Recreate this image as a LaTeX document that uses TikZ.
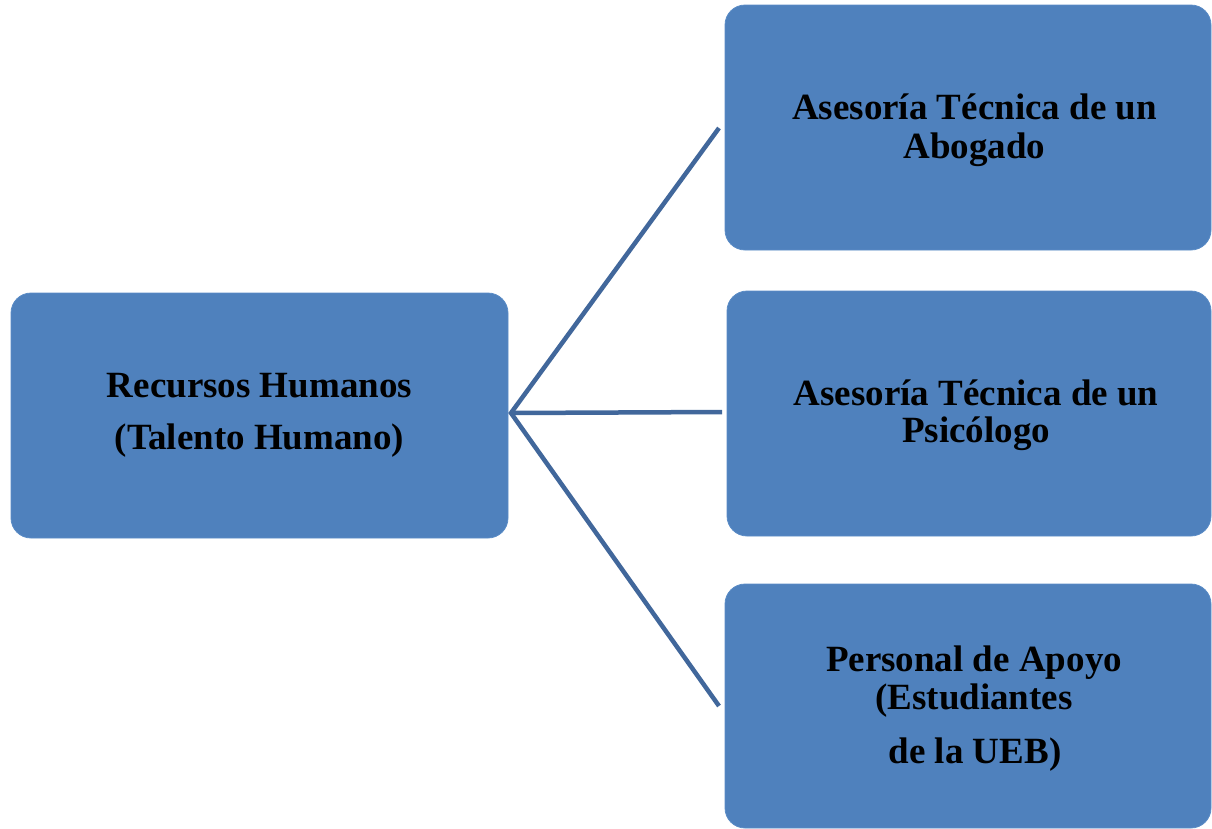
\documentclass[tikz,border=0pt]{standalone}
\usepackage{fontspec}
\setmainfont{Liberation Serif}
\definecolor{boxblue}{HTML}{4F81BD}
\definecolor{boxedge}{HTML}{5B8CC6}
\definecolor{linkblue}{HTML}{41679B}
\tikzset{
  panel/.style={fill=boxblue, draw=boxedge, line width=0.8pt, rounded corners=20pt},
  lbl/.style={anchor=base, inner sep=0pt, font=\fontsize{37}{40}\selectfont\bfseries, text=black},
  link/.style={draw=linkblue, line width=4.5pt}
}
\begin{document}
\begin{tikzpicture}[x=1pt, y=-1pt]
  \useasboundingbox (0,0) rectangle (1212,828);
  \clip (0,0) rectangle (1212,828);

  % boxes
  \draw[panel] (11,293) rectangle (508,538);
  \draw[panel] (725,5) rectangle (1211,250);
  \draw[panel] (727,291) rectangle (1211,536);
  \draw[panel] (725,584) rectangle (1211,828);

  % labels
  \node[lbl] (rh1) at (259.5,397) {Recursos Humanos};
  \node[lbl] (rh2) at (259.5,449) {(Talento Humano)};

  \node[lbl] (ab1) at (974.5,119) {Asesoría Técnica de un};
  \node[lbl] (ab2) at (974.5,158) {Abogado};

  \node[lbl] (ps1) at (976,405) {Asesoría Técnica de un};
  \node[lbl] (ps2) at (976,442) {Psicólogo};

  \node[lbl] (pa1) at (974,671) {Personal de Apoyo};
  \node[lbl] (pa2) at (974,709) {(Estudiantes};
  \node[lbl] (pa3) at (975,763) {de la UEB)};

  % connectors
  \coordinate (hub) at (511,413);
  \coordinate (toAb) at (719,128);
  \coordinate (toPs) at (722,412);
  \coordinate (toPa) at (719,706);
  \draw[link] (toAb) -- (hub) -- (toPa);
  \draw[link] (hub) -- (toPs);
\end{tikzpicture}
\end{document}
